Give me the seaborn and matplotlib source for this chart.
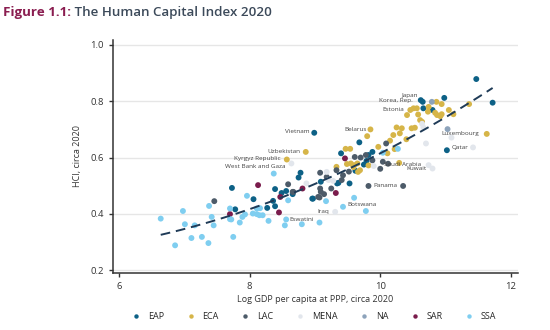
import numpy as np
import pandas as pd
import matplotlib
matplotlib.use("Agg")
import matplotlib.pyplot as plt
import seaborn as sns

# ---------------- data ----------------
eap_x = [7.78, 7.73, 8.06, 8.27, 8.39, 8.36, 8.39, 8.49, 8.56, 8.75, 8.78, 8.99, 8.96, 9.36,
         9.40, 9.68, 9.88, 9.79, 9.82, 9.09, 9.34, 9.53, 8.97, 8.66, 9.62, 9.75,
         10.66, 10.62, 10.65, 10.80, 10.98, 11.47, 11.72, 11.02]
eap_y = [0.416, 0.492, 0.452, 0.421, 0.488, 0.446, 0.427, 0.474, 0.481, 0.529, 0.546, 0.688, 0.454, 0.510,
         0.615, 0.654, 0.620, 0.588, 0.609, 0.514, 0.508, 0.508, 0.454, 0.470, 0.553, 0.575,
         0.775, 0.804, 0.798, 0.769, 0.812, 0.879, 0.795, 0.626]

eca_x = [8.57, 8.86, 9.85, 9.80, 9.47, 9.54, 9.33, 9.49, 9.55, 9.60, 9.65, 9.59, 9.69, 9.66,
         9.97, 10.11, 10.20, 10.25, 10.33, 10.30, 10.40, 10.53, 10.48, 10.61, 10.64, 10.58,
         10.41, 10.46, 10.51, 10.56, 10.74, 10.73, 10.86, 10.94, 10.84, 10.87, 10.92, 10.94,
         11.05, 11.12, 11.36, 11.63, 10.22, 10.15, 10.29, 9.82]
eca_y = [0.593, 0.620, 0.700, 0.676, 0.631, 0.631, 0.567, 0.577, 0.579, 0.573, 0.579, 0.566, 0.555, 0.549,
         0.638, 0.615, 0.680, 0.707, 0.704, 0.686, 0.665, 0.706, 0.704, 0.733, 0.727, 0.753,
         0.751, 0.769, 0.775, 0.775, 0.780, 0.763, 0.798, 0.790, 0.759, 0.751, 0.747, 0.754,
         0.769, 0.754, 0.790, 0.684, 0.630, 0.660, 0.581, 0.572]

lac_x = [7.46, 8.59, 8.67, 9.07, 9.09, 9.08, 9.43, 9.41, 9.61, 9.78, 9.82, 10.35, 10.09,
         9.88, 10.04, 10.12, 10.00, 9.25, 9.14, 9.05, 9.18, 9.33, 9.52, 9.70, 9.08, 8.66]
lac_y = [0.445, 0.505, 0.478, 0.458, 0.478, 0.546, 0.537, 0.520, 0.602, 0.609, 0.499, 0.499, 0.650,
         0.590, 0.585, 0.578, 0.560, 0.490, 0.470, 0.460, 0.531, 0.555, 0.550, 0.600, 0.490, 0.478]

mena_x = [8.64, 9.18, 9.21, 9.28, 9.31, 10.66, 10.70, 11.09, 11.42, 10.74, 10.80, 10.64, 9.90, 8.87]
mena_y = [0.579, 0.549, 0.520, 0.517, 0.407, 0.707, 0.650, 0.671, 0.636, 0.573, 0.561, 0.720, 0.570, 0.508]

na_x = [10.79, 11.03]
na_y = [0.798, 0.701]

sar_x = [7.70, 8.13, 8.47, 8.45, 8.81, 9.32, 9.46]
sar_y = [0.399, 0.502, 0.460, 0.405, 0.490, 0.474, 0.597]

ssa_x = [6.64, 6.98, 7.01, 7.16, 7.11, 7.27, 7.37, 6.86, 7.38, 7.42, 7.45, 7.70, 7.70, 7.75,
         7.85, 7.89, 7.93, 7.96, 8.05, 8.11, 8.11, 8.15, 8.20, 8.29, 8.37, 8.59, 8.56, 8.54,
         8.80, 9.07, 9.17, 9.43, 9.60, 9.78, 10.04, 10.27, 8.16, 7.72]
ssa_y = [0.383, 0.410, 0.363, 0.359, 0.314, 0.318, 0.296, 0.288, 0.428, 0.389, 0.359, 0.419, 0.381, 0.318,
         0.369, 0.389, 0.398, 0.464, 0.401, 0.419, 0.399, 0.395, 0.395, 0.375, 0.543, 0.448, 0.380, 0.359,
         0.363, 0.369, 0.445, 0.425, 0.457, 0.410, 0.617, 0.631, 0.420, 0.380]

regions = ["EAP", "ECA", "LAC", "MENA", "NA", "SAR", "SSA"]
colors = ["#0d6186", "#d6b548", "#4d5b69", "#e2e6ec", "#8da3bb", "#7a1c4c", "#7fcef0"]

label_text = ["Japan", "Korea, Rep.", "Estonia", "Vietnam", "Belarus", "Uzbekistan",
              "Kyrgyz Republic", "West Bank and Gaza", "Luxembourg", "Qatar",
              "Saudi Arabia", "Kuwait", "Panama", "Botswana", "Iraq", "Eswatini"]
label_x = [10.57, 10.50, 10.36, 8.92, 9.79, 8.78, 8.47, 8.55, 11.51, 11.35,
           10.62, 10.71, 9.89, 9.50, 9.21, 8.99]
label_y = [0.822, 0.801, 0.769, 0.691, 0.701, 0.623, 0.597, 0.569, 0.686, 0.636,
           0.576, 0.561, 0.499, 0.433, 0.407, 0.381]
label_ha = ["right", "right", "right", "right", "right", "right", "right", "right", "right", "right",
            "right", "right", "left", "left", "right", "right"]

# ---------------- build table ----------------
xs = [eap_x, eca_x, lac_x, mena_x, na_x, sar_x, ssa_x]
ys = [eap_y, eca_y, lac_y, mena_y, na_y, sar_y, ssa_y]
frames = [pd.DataFrame({"gdp": x, "hci": y, "region": r}) for x, y, r in zip(xs, ys, regions)]
df = pd.concat(frames, ignore_index=True)

sns.set_theme(style="white")
plt.rcParams["font.family"] = ["Open Sans", "DejaVu Sans"]

fig = plt.figure(figsize=(5.5, 3.3), dpi=100)
ax = fig.add_axes([0.2055, 0.173, 0.7365, 0.706])

for yv in [0.2, 0.4, 0.6, 0.8, 1.0]:
    ax.axhline(yv, color="#e6e6e6", lw=1.0, zorder=0)

sns.scatterplot(data=df, x="gdp", y="hci", hue="region", hue_order=regions,
                palette=dict(zip(regions, colors)), s=18, linewidth=0, ax=ax, zorder=3)

sns.regplot(data=df, x="gdp", y="hci", order=2, scatter=False, ci=None, ax=ax,
            line_kws=dict(color="#1f3b57", lw=1.4, ls=(0, (5, 3)), zorder=4))

for t, x, y, ha in zip(label_text, label_x, label_y, label_ha):
    ax.text(x, y, t, ha=ha, va="center", fontsize=4.6, color="#444444", zorder=5)

ax.set_xlim(5.91, 12.11)
ax.set_ylim(0.19, 1.018)
ax.set_xticks([6, 8, 10, 12])
ax.set_yticks([0.2, 0.4, 0.6, 0.8, 1.0])
ax.set_yticklabels(["0.2", "0.4", "0.6", "0.8", "1.0"])
ax.tick_params(axis="both", labelsize=6.8, colors="#333333", length=3, width=1, direction="out",
               bottom=True, left=True)
for s in ["top", "right"]:
    ax.spines[s].set_visible(False)
for s in ["left", "bottom"]:
    ax.spines[s].set_color("#333333")
    ax.spines[s].set_linewidth(1.1)
ax.set_xlabel("Log GDP per capita at PPP, circa 2020", fontsize=6.5, color="#333333", labelpad=3)
ax.set_ylabel("HCI, circa 2020", fontsize=6.5, color="#333333", labelpad=6)

sns.move_legend(ax, "center", bbox_to_anchor=(0.567, 0.04), bbox_transform=fig.transFigure,
                ncol=7, frameon=False, title=None, fontsize=6.5, columnspacing=1.95,
                handletextpad=0.3, markerscale=0.75)

t1 = fig.text(0.006, 0.962, "Figure 1.1:", fontsize=9.6, fontweight="bold", color="#8a1d50",
              va="center", ha="left")
ax.annotate(" The Human Capital Index 2020", xy=(1, 0.5), xycoords=t1, va="center", ha="left",
            fontsize=9.6, fontweight="semibold", color="#3c4a5a", annotation_clip=False)

fig.savefig("out.png", dpi=100)
